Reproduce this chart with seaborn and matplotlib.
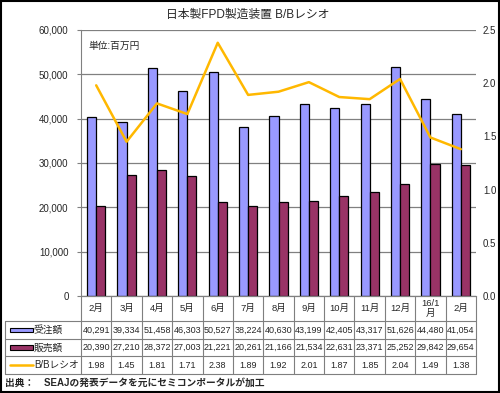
import matplotlib
matplotlib.use('Agg')
import matplotlib.pyplot as plt
import seaborn as sns
import pandas as pd
import numpy as np
from matplotlib.patches import Rectangle
from matplotlib.lines import Line2D
from matplotlib.ticker import FuncFormatter, MultipleLocator

months = ['2月', '3月', '4月', '5月', '6月', '7月', '8月', '9月', '10月', '11月', '12月', '16/1\n月', '2月']
orders = [40291, 39334, 51458, 46303, 50527, 38224, 40630, 43199, 42405, 43317, 51626, 44480, 41054]
sales = [20390, 27210, 28372, 27003, 21221, 20261, 21166, 21534, 22631, 23371, 25252, 29842, 29654]
bb = [1.98, 1.45, 1.81, 1.71, 2.38, 1.89, 1.92, 2.01, 1.87, 1.85, 2.04, 1.49, 1.38]
series_names = ['受注額', '販売額', 'B/Bレシオ']
title = '日本製FPD製造装置 B/Bレシオ'
unit_text = '単位:百万円'
source_text = '出典：　SEAJの発表データを元にセミコンポータルが加工'

BLUE = '#9999FF'
MAROON = '#993366'
GOLD = '#FFB800'
GRID = '#808080'

sns.set_style('white')
plt.rcParams['font.family'] = ['Liberation Sans', 'Noto Sans CJK JP', 'DejaVu Sans']

n = len(months)
idx = list(range(n))
df = pd.DataFrame({
    'idx': idx * 2,
    'value': orders + sales,
    'series': [series_names[0]] * n + [series_names[1]] * n,
})

fig = plt.figure(figsize=(5.0, 3.93), dpi=100)
W, H = 500, 393
L, R, T, B = 81, 476, 30, 296
ax = fig.add_axes([L / W, 1 - B / H, (R - L) / W, (B - T) / H])

sns.barplot(data=df, x='idx', y='value', hue='series', order=idx,
            hue_order=series_names[:2], palette=[BLUE, MAROON], width=0.6,
            edgecolor='black', linewidth=0.9, ax=ax, legend=False, saturation=1)

ax.set_xlim(-0.5, n - 0.5)
ax.set_ylim(0, 60000)
ax.yaxis.set_major_locator(MultipleLocator(10000))
ax.yaxis.set_major_formatter(FuncFormatter(lambda v, p: f'{int(v):,}'))
ax.set_xticks([])
ax.set_xlabel('')
ax.set_ylabel('')
ax.grid(axis='y', color=GRID, linewidth=0.9)
ax.set_axisbelow(True)
for s in ['top', 'right']:
    ax.spines[s].set_visible(False)
ax.spines['left'].set_color(GRID)
ax.spines['bottom'].set_color(GRID)
ax.tick_params(axis='y', which='major', left=True, length=3, color=GRID,
               labelsize=7, pad=6)

ax2 = ax.twinx()
sns.lineplot(x=idx, y=bb, ax=ax2, color=GOLD, linewidth=1.8)
ax2.set_ylim(0, 2.5)
ax2.yaxis.set_major_locator(MultipleLocator(0.5))
ax2.yaxis.set_major_formatter(FuncFormatter(lambda v, p: f'{v:.1f}'))
ax2.tick_params(axis='y', length=0, labelsize=7, pad=5)
for s in ax2.spines.values():
    s.set_visible(False)
ax2.set_ylabel('')
ax.set_xlim(-0.5, n - 0.5)

ax.text(0.018, 0.96, unit_text, transform=ax.transAxes, fontsize=7, va='top', ha='left')
fig.text(0.495, 1 - 15 / H, title, fontsize=8.5, ha='center', va='center')

# data table
ph = B - T
def yf(py):
    return (B - py) / ph

tr = ax.transAxes
rows_y = [296, 321, 339, 356, 374]
leg_left = (5 - L) / (R - L)
lc = '#7f7f7f'
lw = 0.8
for i in range(n + 1):
    x = i / n
    ax.add_line(Line2D([x, x], [yf(rows_y[0]), yf(rows_y[-1])], transform=tr, color=lc, lw=lw, clip_on=False))
ax.add_line(Line2D([leg_left, leg_left], [yf(rows_y[1]), yf(rows_y[-1])], transform=tr, color=lc, lw=lw, clip_on=False))
for k, py in enumerate(rows_y):
    x0 = 0 if k == 0 else leg_left
    ax.add_line(Line2D([x0, 1], [yf(py), yf(py)], transform=tr, color=lc, lw=lw, clip_on=False))
for i, m in enumerate(months):
    ax.text((i + 0.5) / n, yf((rows_y[0] + rows_y[1]) / 2), m, transform=tr,
            ha='center', va='center', fontsize=6.8, linespacing=1.1)
row_vals = [[f'{v:,}' for v in orders], [f'{v:,}' for v in sales], [f'{v:.2f}' for v in bb]]
for r in range(3):
    yc = yf((rows_y[r + 1] + rows_y[r + 2]) / 2)
    for i in range(n):
        ax.text((i + 0.5) / n, yc, row_vals[r][i], transform=tr, ha='center', va='center', fontsize=6.5)
    kx0 = (10 - L) / (R - L)
    kx1 = (33 - L) / (R - L)
    if r < 2:
        col = [BLUE, MAROON][r]
        hh = 4.5 / ph
        ax.add_patch(Rectangle((kx0, yc - hh / 2), kx1 - kx0, hh, transform=tr, facecolor=col,
                               edgecolor='black', lw=0.8, clip_on=False))
    else:
        ax.add_line(Line2D([kx0, kx1], [yc, yc], transform=tr, color=GOLD, lw=1.8, clip_on=False))
    ax.text((34 - L) / (R - L), yc, series_names[r], transform=tr, ha='left', va='center', fontsize=7)

fig.text(5 / W, 1 - 383 / H, source_text, fontsize=7, fontweight='bold', ha='left', va='center')

fig.patches.append(Rectangle((0.002, 0.002), 0.996, 0.996, transform=fig.transFigure,
                             fill=False, edgecolor='black', lw=1.5))

fig.savefig('out.png', dpi=100)
